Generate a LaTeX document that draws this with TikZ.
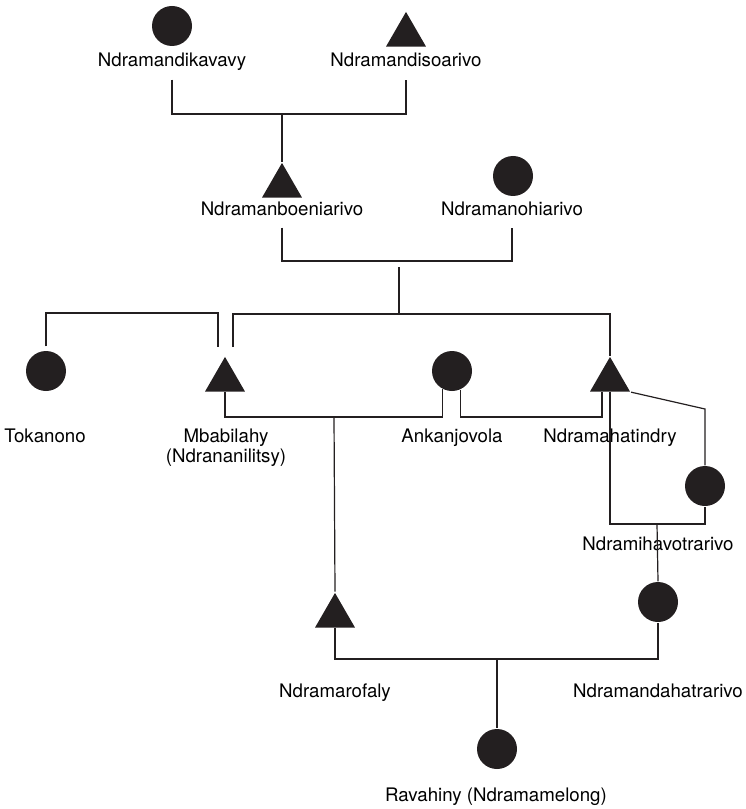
\documentclass[tikz,border=0pt]{standalone}
\usepackage{fontspec}
\setmainfont{TeX Gyre Heros}
\usetikzlibrary{shapes.geometric}
\definecolor{ink}{HTML}{231F20}
\begin{document}
\begin{tikzpicture}[x=0.75pt,y=-0.75pt,line width=0.9pt,draw=ink,
	fem/.style={circle,fill=ink,inner sep=0pt,minimum size=30pt},
	male/.style={regular polygon,regular polygon sides=3,fill=ink,inner sep=0pt,minimum size=34.6pt},
	lbl/.style={font=\fontsize{14}{15}\selectfont,anchor=base,inner xsep=0pt,inner ysep=9pt,text depth=0pt}]
	\useasboundingbox (0,0) rectangle (745,809);
	% persons
	\node[fem] (dik) at (172,26) {};
	\node[male] (soa) at (406,35) {};
	\node[male] (boen) at (282,186) {};
	\node[fem] (ohi) at (513,176) {};
	\node[fem] (tok) at (46,371) {};
	\node[male] (mba) at (225,380) {};
	\node[fem] (ank) at (452,371) {};
	\node[male] (hat) at (610,380) {};
	\node[fem] (miha) at (705,486) {};
	\node[male] (mar) at (335,616) {};
	\node[fem] (mand) at (658,602) {};
	\node[fem] (rav) at (497,749) {};
	% names
	\node[lbl] (lDik) at (172,67) {Ndramandikavavy};
	\node[lbl] (lSoa) at (406,67) {Ndramandisoarivo};
	\node[lbl] (lBoen) at (282,215) {Ndramanboeniarivo};
	\node[lbl] (lOhi) at (512,215) {Ndramanohiarivo};
	\node[lbl] (lTok) at (45,442) {Tokanono};
	\node[lbl,align=center] (lMba) at (226,462) {Mbabilahy\\(Ndrananilitsy)};
	\node[lbl] (lAnk) at (452,442) {Ankanjovola};
	\node[lbl] (lHat) at (610,442) {Ndramahatindry};
	\node[lbl] (lMiha) at (658,550) {Ndramihavotrarivo};
	\node[lbl] (lMar) at (335,697) {Ndramarofaly};
	\node[lbl] (lMand) at (658,697) {Ndramandahatrarivo};
	\node[lbl] (lRav) at (496,801) {Ravahiny (Ndramamelong)};
	% junctions
	\coordinate (j1) at (282,114);
	\coordinate (j2) at (399,261);
	\coordinate (j3) at (399,314);
	\coordinate (tkR) at (218,313);
	\coordinate (tkB) at (218,347);
	\coordinate (mbL) at (233,347);
	\coordinate (j4) at (334,417);
	\coordinate (j5) at (602,417);
	\coordinate (j6) at (657,524);
	\coordinate (kink) at (705,409);
	\coordinate (j7) at (497,659);
	% lines
	\draw (lDik.south) |- (j1) -| (lSoa.south);
	\draw (j1) -- (boen.corner 1);
	\draw (lBoen.south) |- (j2) -| (lOhi.south);
	\draw[shorten <=4.5pt] (j2) -- (j3);
	\draw[shorten <=3pt] (tok.north) |- (tkR) -- (tkB);
	\draw (mbL) -- (mbL |- j3) -| (hat.corner 1);
	\draw (mba.side 2) |- (j4) -| (ank.243);
	\draw (j4) -- (mar.corner 1);
	\draw (ank.294) |- (j5) -- (j5 |- hat.side 2);
	\draw (hat.side 2) |- (j6) -| (miha.south);
	\draw (hat.corner 3) -- (kink) -- (miha.north);
	\draw (j6) -- (mand.north);
	\draw (mar.side 2) |- (j7) -| (mand.south);
	\draw (j7) -- (rav.north);
\end{tikzpicture}
\end{document}
